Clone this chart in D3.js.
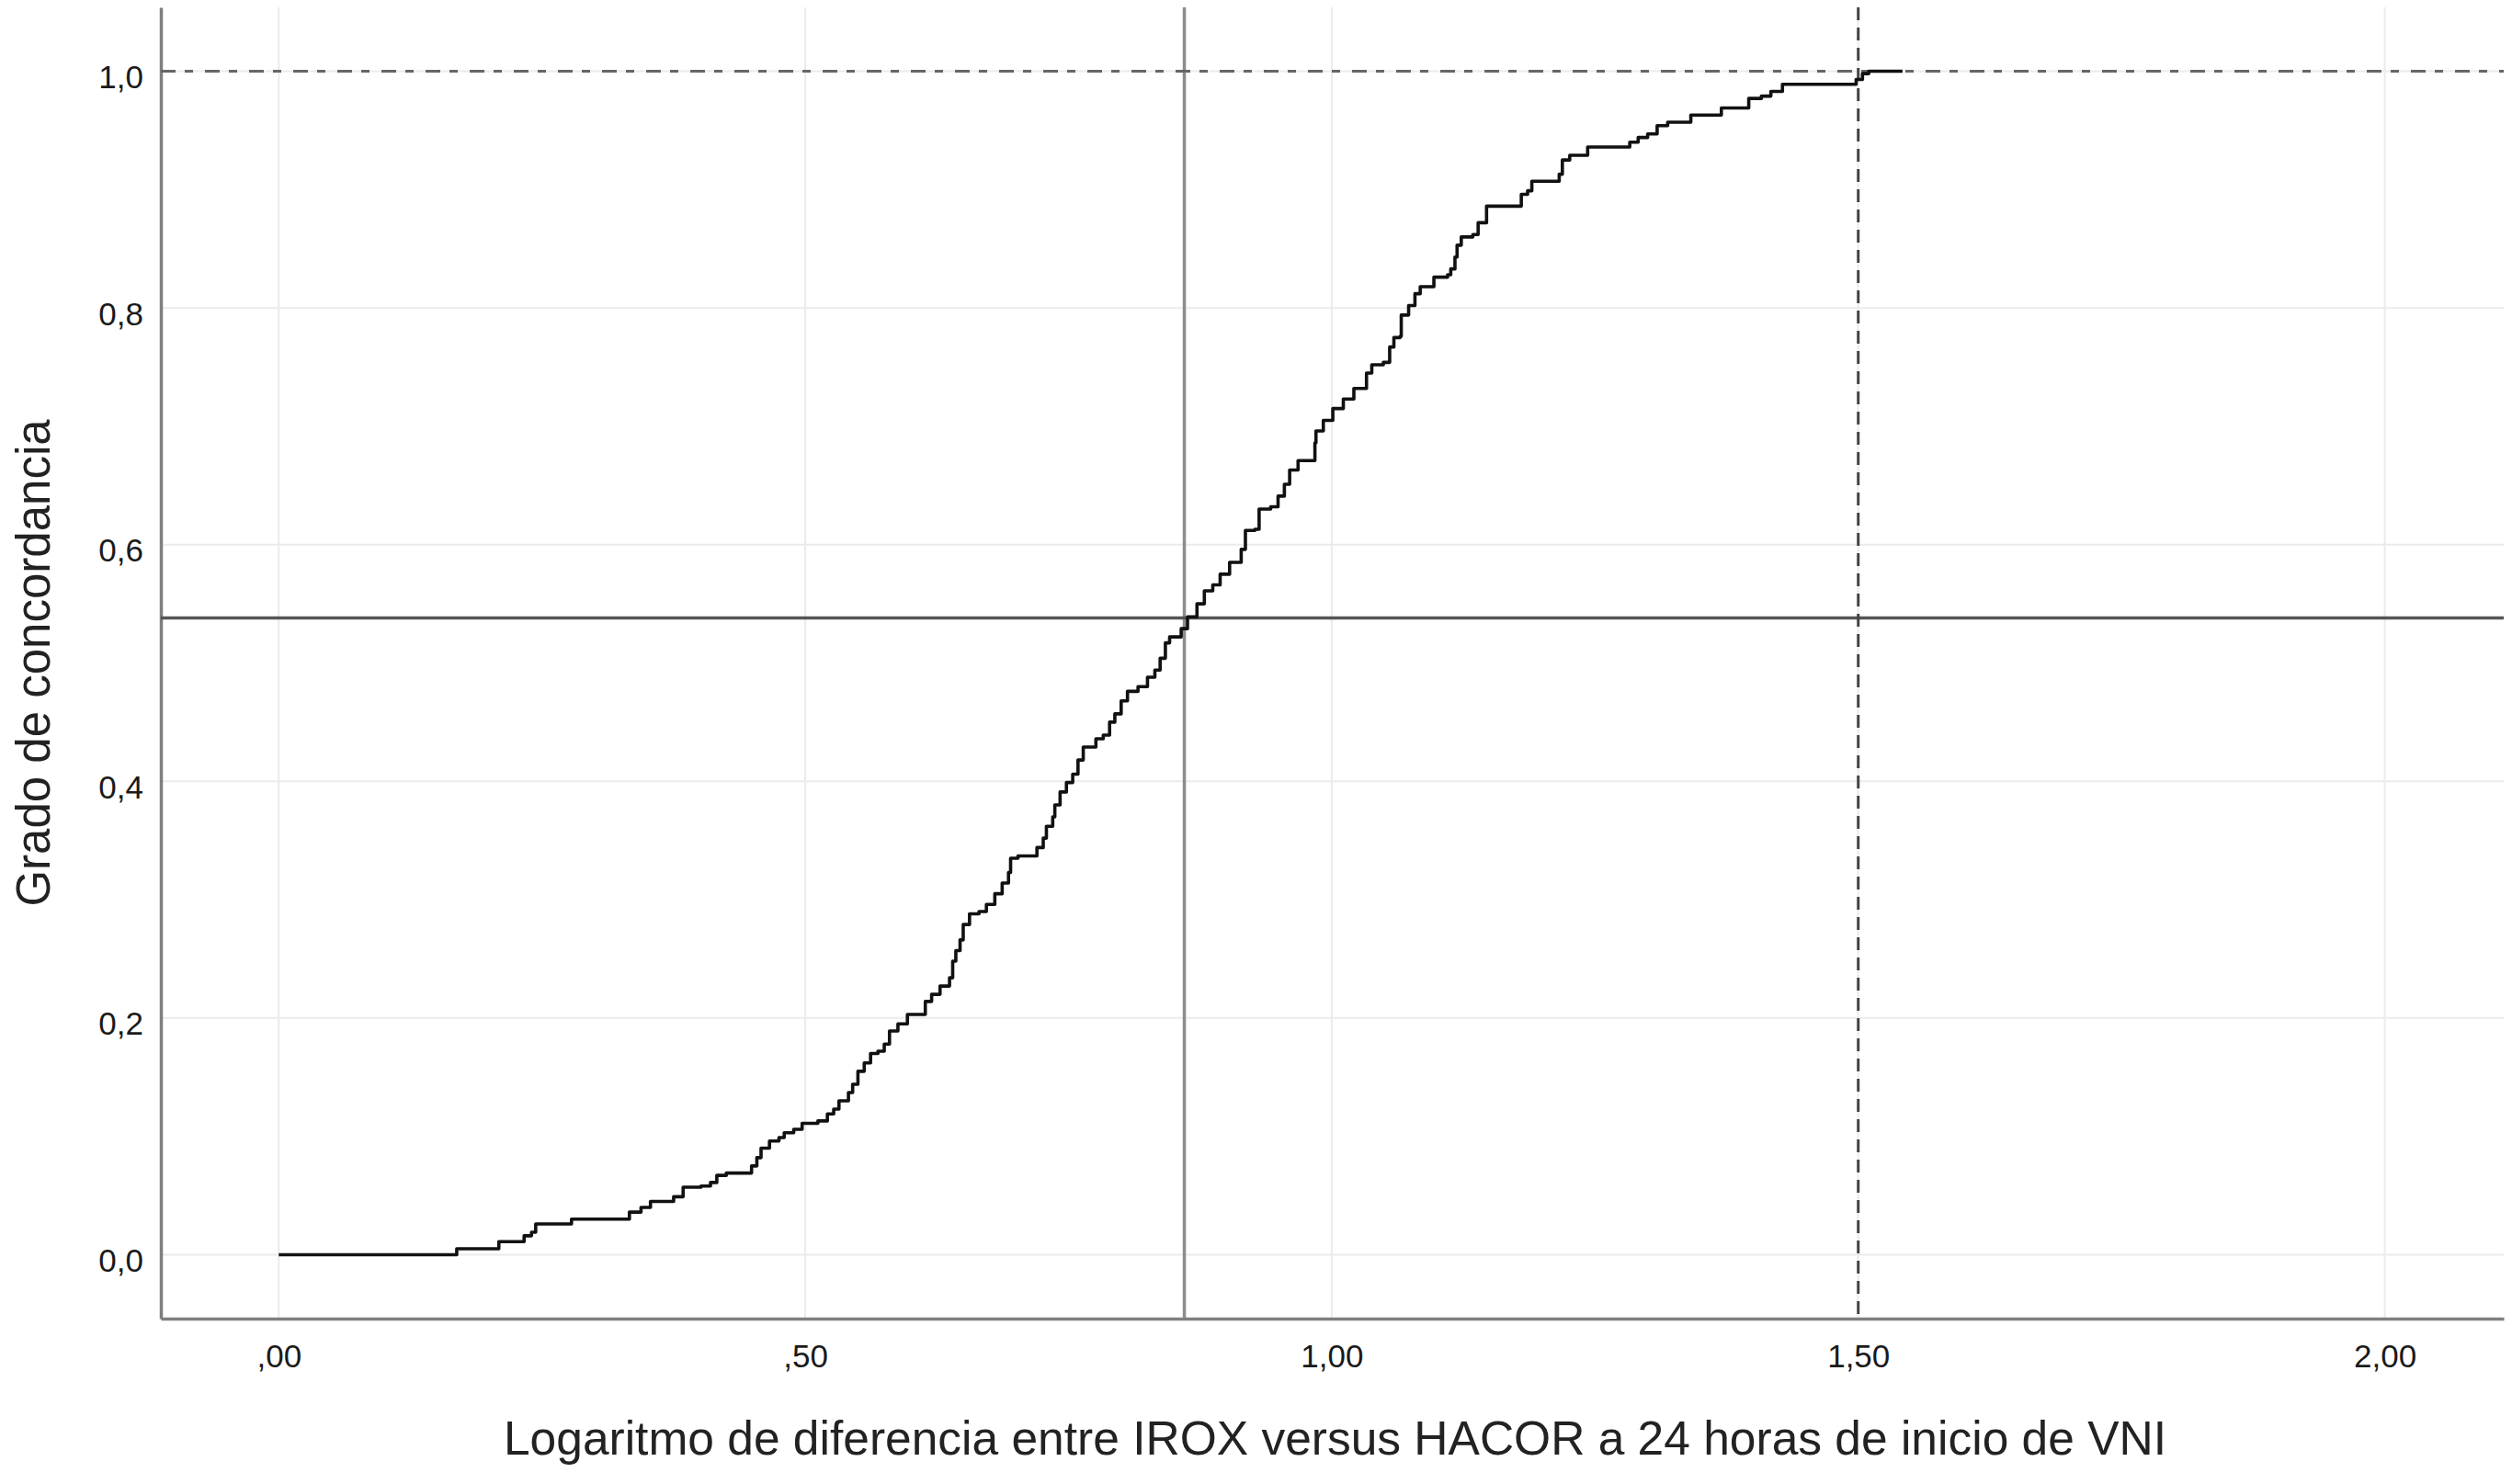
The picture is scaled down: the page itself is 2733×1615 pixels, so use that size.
<!DOCTYPE html>
<html>
<head>
<meta charset="utf-8">
<script src="https://cdn.jsdelivr.net/npm/d3@7"></script>
<style>
  body { margin: 0; background: #fff; }
  text { font-family: "Liberation Sans", Arial, sans-serif; }
</style>
</head>
<body>
<div id="chart"></div>
<script>
// ticks
var xTicks = [0, 0.5, 1, 1.5, 2];
var xTickLabels = [",00", ",50", "1,00", "1,50", "2,00"];
var yTicks = [0, 0.2, 0.4, 0.6, 0.8, 1.0];
var yTickLabels = ["0,0", "0,2", "0,4", "0,6", "0,8", "1,0"];

// reference lines
var refX = 0.86;      // solid vertical
var refY = 0.538;     // solid horizontal
var limitX = 1.5;     // dashed vertical
var limitY = 1.0;     // dash-dot horizontal

// cumulative curve (x = log difference, y = grado de concordancia)
var cdfX = [0, 0.169, 0.209, 0.233, 0.240, 0.244, 0.278, 0.333, 0.344, 0.353, 0.375, 0.384, 0.401, 0.410, 0.416, 0.425,
  0.449, 0.454, 0.458, 0.466, 0.475, 0.480, 0.489, 0.497, 0.512, 0.521, 0.527, 0.532, 0.541, 0.545, 0.550, 0.556,
  0.562, 0.569, 0.575, 0.580, 0.588, 0.597, 0.614, 0.620, 0.628, 0.637, 0.640, 0.643, 0.647, 0.650, 0.656, 0.665,
  0.672, 0.680, 0.687, 0.693, 0.695, 0.702, 0.720, 0.726, 0.729, 0.735, 0.737, 0.742, 0.748, 0.754, 0.759, 0.764,
  0.776, 0.783, 0.789, 0.794, 0.800, 0.806, 0.816, 0.825, 0.832, 0.837, 0.842, 0.846, 0.857, 0.863, 0.872, 0.879,
  0.887, 0.894, 0.903, 0.914, 0.918, 0.927, 0.931, 0.942, 0.949, 0.955, 0.960, 0.968, 0.984, 0.985, 0.992, 1.001,
  1.011, 1.021, 1.033, 1.038, 1.049, 1.055, 1.059, 1.065, 1.066, 1.073, 1.079, 1.084, 1.097, 1.110, 1.113, 1.117,
  1.119, 1.123, 1.134, 1.139, 1.147, 1.180, 1.186, 1.190, 1.216, 1.219, 1.226, 1.243, 1.283, 1.291, 1.300, 1.309,
  1.319, 1.341, 1.370, 1.396, 1.408, 1.417, 1.428, 1.498, 1.504, 1.510, 1.542];
var cdfY = [0, 0.005, 0.011, 0.016, 0.019, 0.026, 0.030, 0.036, 0.040, 0.045, 0.049, 0.057, 0.058, 0.061, 0.067, 0.069,
  0.075, 0.082, 0.090, 0.096, 0.099, 0.103, 0.106, 0.111, 0.113, 0.119, 0.123, 0.130, 0.137, 0.144, 0.155, 0.162,
  0.170, 0.172, 0.178, 0.189, 0.195, 0.203, 0.214, 0.220, 0.227, 0.234, 0.248, 0.257, 0.266, 0.279, 0.288, 0.290,
  0.296, 0.305, 0.314, 0.323, 0.335, 0.337, 0.344, 0.352, 0.362, 0.370, 0.380, 0.391, 0.399, 0.406, 0.418, 0.429,
  0.436, 0.439, 0.450, 0.457, 0.468, 0.476, 0.480, 0.488, 0.494, 0.504, 0.517, 0.522, 0.529, 0.539, 0.550, 0.561,
  0.566, 0.575, 0.585, 0.596, 0.612, 0.613, 0.630, 0.632, 0.641, 0.651, 0.663, 0.671, 0.686, 0.696, 0.705, 0.715,
  0.723, 0.732, 0.745, 0.752, 0.754, 0.767, 0.775, 0.776, 0.794, 0.802, 0.812, 0.818, 0.826, 0.828, 0.833, 0.843,
  0.853, 0.860, 0.862, 0.872, 0.886, 0.896, 0.899, 0.907, 0.913, 0.925, 0.929, 0.936, 0.940, 0.944, 0.947, 0.954,
  0.957, 0.963, 0.969, 0.977, 0.979, 0.983, 0.989, 0.993, 0.998, 1.000, 1.000];

var xTitle = "Logaritmo de diferencia entre IROX versus HACOR a 24 horas de inicio de VNI";
var yTitle = "Grado de concordancia";

var width = 2733, height = 1615;
var plotLeft = 175, plotRight = 2724, plotTop = 8, plotBottom = 1435;

var svg = d3.select("#chart").append("svg")
    .attr("width", width)
    .attr("height", height)
    .style("display", "block");

var x = d3.scaleLinear().domain([-0.112, 2.113]).range([plotLeft, plotRight]);
var y = d3.scaleLinear().domain([-0.054, 1.054]).range([plotBottom, plotTop]);

// grid
svg.append("g").selectAll("line")
  .data(xTicks).enter().append("line")
    .attr("x1", function(d) { return x(d); })
    .attr("x2", function(d) { return x(d); })
    .attr("y1", plotTop).attr("y2", plotBottom)
    .attr("stroke", "#ebebeb").attr("stroke-width", 2);

svg.append("g").selectAll("line")
  .data(yTicks).enter().append("line")
    .attr("x1", plotLeft).attr("x2", plotRight)
    .attr("y1", function(d) { return y(d); })
    .attr("y2", function(d) { return y(d); })
    .attr("stroke", "#ebebeb").attr("stroke-width", 2);

// axes
var xAxis = svg.append("g")
    .attr("transform", "translate(0," + plotBottom + ")")
    .call(d3.axisBottom(x).tickValues(xTicks).tickSize(0).tickSizeOuter(0)
      .tickFormat(function(d, i) { return xTickLabels[i]; }));
xAxis.select(".domain").attr("stroke", "#7f7f7f").attr("stroke-width", 3.5);
xAxis.selectAll("text").attr("y", 53).attr("dy", null)
    .style("font-size", "35px").attr("fill", "#1a1a1a");

var yAxis = svg.append("g")
    .attr("transform", "translate(" + plotLeft + ",0)")
    .call(d3.axisLeft(y).tickValues(yTicks).tickSize(0).tickSizeOuter(0)
      .tickFormat(function(d, i) { return yTickLabels[i]; }));
yAxis.select(".domain").attr("stroke", "#7f7f7f").attr("stroke-width", 3.5);
yAxis.selectAll("text").attr("x", -19).attr("y", 18).attr("dy", null)
    .style("font-size", "35px").attr("fill", "#1a1a1a");

// reference lines
svg.append("line")
    .attr("x1", x(refX)).attr("x2", x(refX))
    .attr("y1", plotTop).attr("y2", plotBottom - 1)
    .attr("stroke", "#8c8c8c").attr("stroke-width", 3.5);

svg.append("line")
    .attr("x1", plotLeft).attr("x2", plotRight)
    .attr("y1", y(refY)).attr("y2", y(refY))
    .attr("stroke", "#555").attr("stroke-width", 3.5);

svg.append("line")
    .attr("x1", x(limitX)).attr("x2", x(limitX))
    .attr("y1", plotTop).attr("y2", plotBottom - 1)
    .attr("stroke", "#444").attr("stroke-width", 3)
    .attr("stroke-dasharray", "14,8");

svg.append("line")
    .attr("x1", plotLeft).attr("x2", plotRight)
    .attr("y1", y(limitY)).attr("y2", y(limitY))
    .attr("stroke", "#666").attr("stroke-width", 3)
    .attr("stroke-dasharray", "16,10,9,13");

// curve
var pts = cdfX.map(function(d, i) { return [d, cdfY[i]]; });
var line = d3.line()
    .x(function(d) { return x(d[0]); })
    .y(function(d) { return y(d[1]); })
    .curve(d3.curveStepAfter);

svg.append("path")
    .datum(pts)
    .attr("d", line)
    .attr("fill", "none")
    .attr("stroke", "#111")
    .attr("stroke-width", 3.6)
    .attr("stroke-linejoin", "round");

// titles
svg.append("text")
    .attr("x", (plotLeft + plotRight) / 2 + 3)
    .attr("y", 1583)
    .attr("text-anchor", "middle")
    .style("font-size", "51.5px")
    .attr("fill", "#222")
    .text(xTitle);

svg.append("text")
    .attr("transform", "translate(54," + ((plotTop + plotBottom) / 2) + ") rotate(-90)")
    .attr("text-anchor", "middle")
    .style("font-size", "51px")
    .attr("fill", "#222")
    .text(yTitle);
</script>
</body>
</html>
